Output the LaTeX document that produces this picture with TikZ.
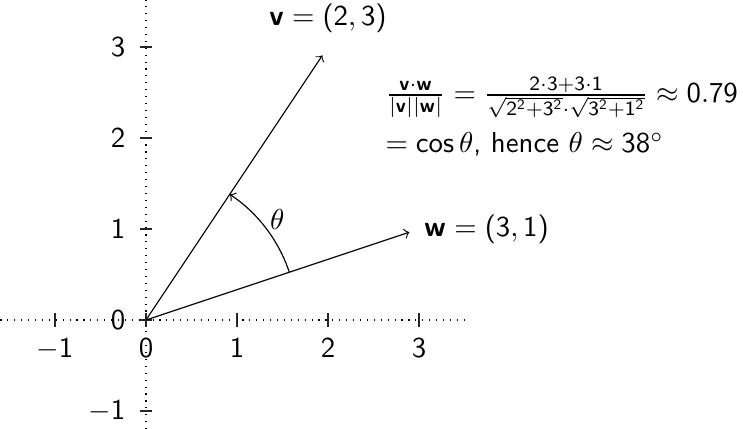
\documentclass[tikz,border=0pt]{standalone}
\usepackage{amsmath}
\renewcommand\familydefault{\sfdefault}
\SetSymbolFont{operators}{normal}{OT1}{cmss}{m}{n}
\SetMathAlphabet{\mathbf}{normal}{OT1}{cmss}{bx}{n}
\begin{document}
\begin{tikzpicture}[x=1.11cm,y=1.11cm,
  axisline/.style={dotted, thin},
  tickline/.style={thin, black!85},
  ticklabel/.style={inner sep=0pt},
  vec/.style={->, shorten >=3.5pt},
]
\useasboundingbox (-1.604,-1.187) rectangle (6.56,3.516);
\coordinate (O) at (0,0);
\coordinate (V) at (2,3);
\coordinate (W) at (3,1);
\coordinate (xl) at (-1.6,0);
\coordinate (xr) at (3.5,0);
\coordinate (yb) at (0,-1.2);
\coordinate (yt) at (0,3.52);
\draw[axisline] (xl) -- (xr);
\draw[axisline] (yb) -- (yt);
\foreach \x in {-1,0,1,2,3} {
  \draw[tickline] (\x,-2.4pt) -- (\x,2.4pt);
  \node[ticklabel, anchor=north] (xlab\x) at (\x,-0.198) {$\x$};
}
\foreach \y in {-1,0,1,2,3} {
  \draw[tickline] (-2.1pt,\y) -- (2.1pt,\y);
  \node[ticklabel, anchor=east] (ylab\y) at (-0.22,\y) {$\y$};
}
\draw[vec] (O) -- (V);
\draw[vec] (O) -- (W);
\node[ticklabel, anchor=south] (vl) at ([yshift=4.9pt]V) {$\mathbf{v} = (2,3)$};
\node[ticklabel, anchor=west] (wl) at ([xshift=1.7pt]W) {$\mathbf{w} = (3,1)$};
\draw[->] ([shift={(18.43:1.66)}]O) arc[start angle=18.43, end angle=56.31, radius=1.66];
\node (th) at (37.5:1.82) {$\theta$};
\node[ticklabel, anchor=north west, align=left] (f) at (2.626,2.670)
  {$\frac{\mathbf{v}\cdot\mathbf{w}}{|\mathbf{v}||\mathbf{w}|} = \frac{2\cdot3+3\cdot1}{\sqrt{2^2+3^2}\cdot\sqrt{3^2+1^2}} \approx 0.79$\\[4.2pt]
   $=\cos\theta$, hence $\theta\approx 38^\circ$};
\end{tikzpicture}
\end{document}
